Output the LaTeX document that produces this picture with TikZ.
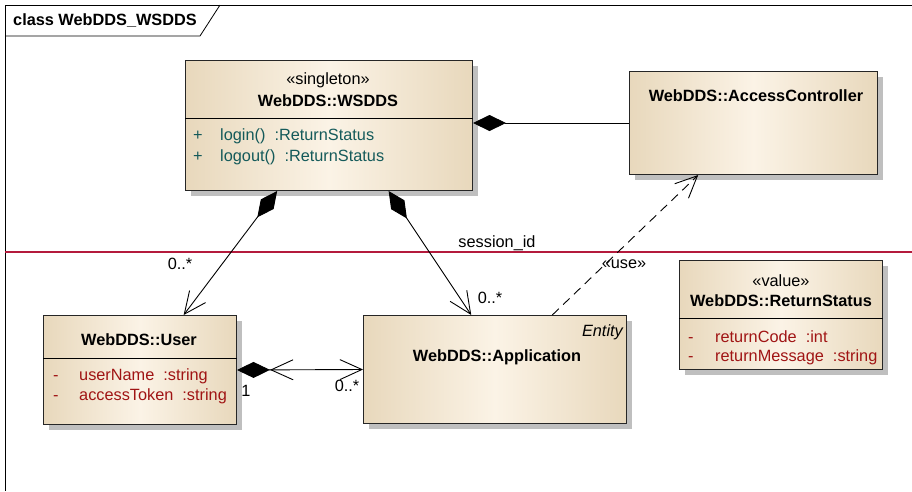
\documentclass[tikz,border=0pt]{standalone}
\usepackage{fontspec}
\setmainfont{Liberation Sans}
\usepackage{tikz}
\usetikzlibrary{arrows.meta,shadows,calc}
\definecolor{boxtan}{RGB}{232,216,188}
\definecolor{boxlight}{RGB}{251,243,230}
\definecolor{oprcol}{RGB}{20,90,90}
\definecolor{attcol}{RGB}{160,20,20}
\definecolor{sepred}{RGB}{180,26,60}
\begin{document}
\begin{tikzpicture}[x=1pt,y=-1pt,
  font=\fontsize{16.3}{19}\selectfont,
  classbox/.style={draw=black!85,line width=1pt,anchor=north west,inner sep=0pt,
    left color=boxtan,right color=boxtan,middle color=boxlight,
    drop shadow={shadow xshift=5pt,shadow yshift=-5pt,opacity=1,fill=black!25}},
  cname/.style={font=\fontsize{16.3}{19}\selectfont\bfseries,inner sep=0pt},
  stereo/.style={inner sep=0pt},
  member/.style={anchor=west,inner sep=0pt},
  lbl/.style={inner sep=0pt},
  assoc/.style={line width=0.9pt,-{Straight Barb[length=22pt,width=20pt,line width=0.9pt]}},
  comp/.style={line width=0.9pt,{Diamond[length=33pt,width=16pt]}-},
  compnav/.style={line width=0.9pt,{Diamond[length=33pt,width=16pt]}-{Straight Barb[length=22pt,width=20pt,line width=0.9pt]}},
  compboth/.style={line width=0.9pt,{Diamond[length=33pt,width=16pt]Straight Barb[length=22pt,width=20pt,line width=0.9pt]}-{Straight Barb[length=22pt,width=20pt,line width=0.9pt]}}]
\useasboundingbox (0,0) rectangle (912,491);
\draw[line width=0.8pt] (912,5) -- (5,5) -- (5,491);
\draw[line width=0.8pt] (5,36) -- (200,36) -- (220,5);
\node[anchor=west,font=\fontsize{16.3}{19}\selectfont\bfseries,inner sep=0pt] (frametitle) at (13,21) {class WebDDS\_WSDDS};
\draw[sepred,line width=1.8pt] (5,252) -- (912,252);
\node[classbox,minimum width=287pt,minimum height=130pt] (wsdds) at (185,60) {};
\draw[line width=0.9pt] ([yshift=-58pt]wsdds.north west) -- ([yshift=-58pt]wsdds.north east);
\node[stereo] (wsddsst) at (328,80) {«singleton»};
\node[cname] (wsddsname) at (328,101) {WebDDS::WSDDS};
\node[member,oprcol] (login) at (193,136) {\makebox[27pt][l]{+}login()\ \ :ReturnStatus};
\node[member,oprcol] (logout) at (193,157) {\makebox[27pt][l]{+}logout()\ \ :ReturnStatus};
\node[classbox,minimum width=248pt,minimum height=103pt] (ac) at (629,71) {};
\node[cname] (acname) at (756,96) {WebDDS::AccessController};
\node[classbox,minimum width=193pt,minimum height=109pt] (user) at (43,315) {};
\draw[line width=0.9pt] ([yshift=-43pt]user.north west) -- ([yshift=-43pt]user.north east);
\node[cname] (username) at (139,340) {WebDDS::User};
\node[member,attcol] (uname) at (53,376) {\makebox[26pt][l]{-}userName\ \ :string};
\node[member,attcol] (utoken) at (53,396) {\makebox[26pt][l]{-}accessToken\ \ :string};
\node[classbox,minimum width=263pt,minimum height=108pt] (app) at (363,315) {};
\node[anchor=east,inner sep=0pt,font=\fontsize{16.3}{19}\selectfont\itshape] (appst) at (623,332) {Entity};
\node[cname] (appname) at (497,357) {WebDDS::Application};
\node[classbox,minimum width=203pt,minimum height=109pt] (rs) at (679,260) {};
\draw[line width=0.9pt] ([yshift=-58pt]rs.north west) -- ([yshift=-58pt]rs.north east);
\node[stereo] (rsst) at (781,281) {«value»};
\node[cname] (rsname) at (781,301) {WebDDS::ReturnStatus};
\node[member,attcol] (rscode) at (688,337) {\makebox[27pt][l]{-}returnCode\ \ :int};
\node[member,attcol] (rsmsg) at (688,357) {\makebox[27pt][l]{-}returnMessage\ \ :string};
\draw[comp] (wsdds.east |- ac.west) -- (ac.west);
\draw[compboth] (user.east) -- (app.west);
\draw[compnav] ($(wsdds.south west)!0.32!(wsdds.south east)$) -- ($(user.north west)!0.725!(user.north east)$);
\draw[compnav] ($(wsdds.south west)!0.707!(wsdds.south east)$) -- ($(app.north west)!0.41!(app.north east)$);
\draw[assoc,dash pattern=on 9pt off 6pt] ($(app.north west)!0.717!(app.north east)$) -- ($(ac.south west)!0.278!(ac.south east)$);
\node[lbl] (m1) at (180,264) {0..*};
\node[lbl] (m2) at (490,298) {0..*};
\node[lbl] (m3) at (347,386) {0..*};
\node[lbl] (m4) at (246,391) {1};
\node[lbl] (sess) at (497,243) {session\_id};
\node[lbl] (use) at (624,264) {«use»};
\end{tikzpicture}
\end{document}
